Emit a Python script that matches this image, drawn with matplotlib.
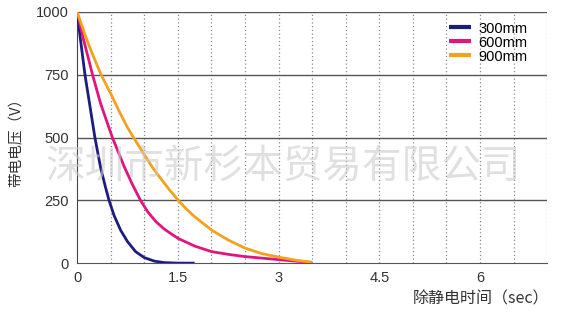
import numpy as np
import matplotlib.pyplot as plt

# values (time in sec, voltage in V)
t300 = [0, 0.05, 0.117, 0.2, 0.265, 0.35, 0.42, 0.475, 0.55, 0.65, 0.75, 0.87, 1.0, 1.15, 1.3, 1.5, 1.75]
v300 = [1000, 890, 750, 610, 500, 380, 305, 250, 190, 130, 86, 46, 22, 8, 2, 0, 0]

t600 = [0, 0.1, 0.23, 0.35, 0.525, 0.7, 0.82, 0.944, 1.05, 1.17, 1.3, 1.5, 1.75, 2.0, 2.25, 2.5, 2.75, 3.0, 3.25, 3.5]
v600 = [1000, 885, 750, 635, 500, 385, 315, 250, 205, 166, 135, 99, 68, 46, 35, 26, 20, 14, 8, 3]

t900 = [0, 0.15, 0.25, 0.357, 0.5, 0.625, 0.75, 0.84, 1.0, 1.125, 1.25, 1.375, 1.5, 1.625, 1.75, 2.0, 2.25, 2.5, 2.75, 3.0, 3.25, 3.5]
v900 = [1000, 885, 818, 750, 675, 605, 540, 500, 432, 380, 335, 292, 252, 216, 185, 132, 92, 60, 38, 24, 12, 3]

labels = ['300mm', '600mm', '900mm']
colors = ['#1c1c80', '#e0157e', '#f4a11e']
xticks = [0, 1.5, 3, 4.5, 6]
yticks = [0, 250, 500, 750, 1000]

plt.rcParams['font.family'] = ['Liberation Sans', 'Noto Sans CJK SC', 'DejaVu Sans']

fig = plt.figure(figsize=(5.67, 3.14), dpi=100)
ax = fig.add_axes([0.136, 0.162, 0.829, 0.800])

for x in np.arange(0.5, 7.01, 0.5):
	ax.axvline(x, color='#888888', lw=0.9, ls=(0, (1, 2)), zorder=1)
for y in yticks[1:]:
	ax.axhline(y, color='#555555', lw=1.0, zorder=1)

for t, v, lab, c in zip([t300, t600, t900], [v300, v600, v900], labels, colors):
	ax.plot(t, v, color=c, lw=2.0, label=lab, zorder=3, solid_capstyle='butt',
		solid_joinstyle='round')

ax.set_xlim(0, 7)
ax.set_ylim(0, 1000)
ax.set_xticks(xticks)
ax.set_xticklabels(['0', '1.5', '3', '4.5', '6'])
ax.set_yticks(yticks)
ax.tick_params(length=0, labelsize=10.5, colors='#333333', pad=6)

for s in ['top', 'right']:
	ax.spines[s].set_visible(False)
ax.spines['left'].set_color('#444444')
ax.spines['bottom'].set_color('#555555')

leg = ax.legend(loc='upper right', bbox_to_anchor=(0.97, 0.985), frameon=False,
	fontsize=10.5, handlelength=1.5, handletextpad=0.5, labelspacing=0.0,
	borderaxespad=0)
for h in leg.get_lines():
	h.set_linewidth(3)

fig.text(0.030, 0.559, '带电电压（V）', rotation=90, ha='center', va='center',
	fontsize=10.5, color='#333333', family=['Noto Sans CJK SC', 'DejaVu Sans'])
fig.text(0.968, 0.048, '除静电时间（sec）', ha='right', va='center',
	fontsize=11.5, color='#333333', family=['Noto Sans CJK SC', 'DejaVu Sans'])

# watermark
fig.text(0.50, 0.468, '深圳市新杉本贸易有限公司', ha='center', va='center',
	fontsize=28.5, color='#cccccc', alpha=0.6, zorder=10,
	family=['Noto Sans CJK SC', 'DejaVu Sans'], fontweight='light')

fig.savefig('out.png', dpi=100)
